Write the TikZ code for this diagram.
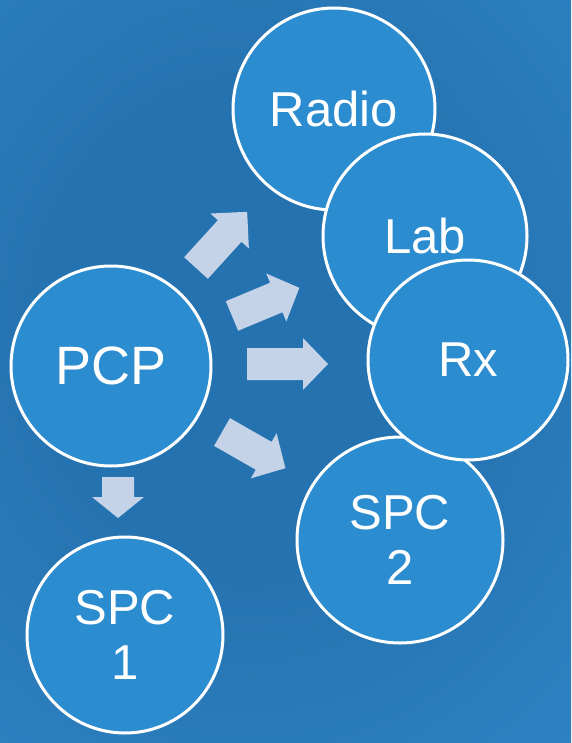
\documentclass[tikz,border=0pt]{standalone}
\usepackage{fontspec}
\setmainfont{Liberation Sans}
\definecolor{bgdark}{RGB}{37,114,176}
\definecolor{bglight}{RGB}{58,150,216}
\definecolor{circfill}{RGB}{43,140,208}
\definecolor{arrowfill}{RGB}{197,211,232}
\pgfdeclareradialshading{bgshade}{\pgfpoint{0bp}{0bp}}{color(0bp)=(bgdark); color(12bp)=(bgdark); color(50bp)=(bglight)}
% x, y, angle, length, head length
\newcommand\blkarrow[5]{%
  \fill[arrowshape, shift={(#1,#2)}, rotate=#3]
    (0,-16) -- ({#4-#5},-16) -- ({#4-#5},-26) -- (#4,0) --
    ({#4-#5},26) -- ({#4-#5},16) -- (0,16) -- cycle;}
\begin{document}
\begin{tikzpicture}[x=1pt, y=-1pt,
  circ/.style={circle, draw=white, line width=3pt, fill=circfill,
    text=white, inner sep=0pt, minimum size=#1, align=center,
    font=\fontsize{49}{55}\selectfont},
  arrowshape/.style={fill=arrowfill}]
\useasboundingbox (0,0) rectangle (571,743);
\begin{scope}
  \clip (0,0) rectangle (571,743);
  \shade[shading=bgshade] (-170,-150) rectangle (670,810);
\end{scope}
% block arrows
\blkarrow{196}{268}{47.7}{76}{26}
\blkarrow{232}{316}{22.7}{73}{25}
\blkarrow{247}{364}{0}{81}{25}
\blkarrow{222}{432}{-29.7}{73}{25}
\blkarrow{118}{477}{-90}{41}{21}
% circles
\node[circ=200pt, font=\fontsize{54}{60}\selectfont] (pcp) at (111,366) {PCP};
\node[circ=196pt] (spc1) at (125,635) {SPC\\1};
\node[circ=202pt] (radio) at (334,109) {Radio};
\node[circ=204pt] (lab) at (425,236) {Lab};
\node[circ=206pt] (spc2) at (400,540) {SPC\\2};
\node[circ=200pt] (rx) at (468,360) {Rx};
\end{tikzpicture}
\end{document}
